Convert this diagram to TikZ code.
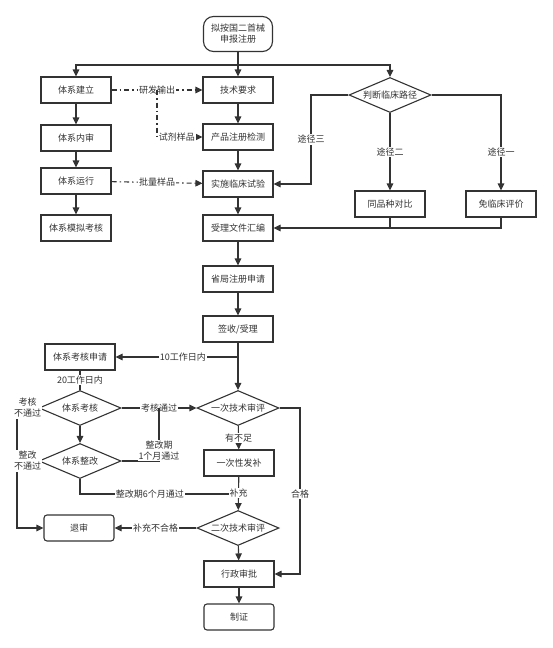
\documentclass[tikz,border=0pt]{standalone}
\usepackage{fontspec}
\setmainfont{Noto Sans CJK SC}
\usetikzlibrary{arrows.meta,shapes.geometric}
\definecolor{ln}{HTML}{333333}

\begin{document}
\begin{tikzpicture}[x=1pt,y=-1pt,
    every node/.style={font=\fontsize{9pt}{11pt}\selectfont, text=ln},
    box/.style={draw=ln, line width=1.1pt, minimum width=70pt, minimum height=26pt, inner sep=1pt},
    rbox/.style={box, rounded corners=3pt},
    dec/.style={draw=ln, line width=1.1pt, diamond, aspect=2.3, minimum width=82pt, minimum height=35pt, inner sep=0pt},
    lbl/.style={fill=white, inner sep=1pt, align=center},
    arr/.style={-{Triangle[length=7pt,width=6.5pt]}},
    dd/.style={dash pattern=on 5pt off 3pt on 1.5pt off 3pt}]
    \useasboundingbox (0,0) rectangle (553,648);

    \node[box, rounded corners=10pt, minimum width=69pt, minimum height=35pt, align=center] (start) at (238,34) {拟按国二首械\\申报注册};

    \node[box] (jianli) at (76,90) {体系建立};
    \node[box] (neishen) at (76,138) {体系内审};
    \node[box] (yunxing) at (76,181) {体系运行};
    \node[box] (moni) at (76,228) {体系模拟考核};

    \node[box] (jishu) at (238,90) {技术要求};
    \node[box] (jiance) at (238,137) {产品注册检测};
    \node[box] (shiyan) at (238,184) {实施临床试验};
    \node[box] (huibian) at (238,228) {受理文件汇编};

    \node[dec] (panduan) at (390,95) {判断临床路径};
    \node[box] (tongpin) at (390,204) {同品种对比};
    \node[box] (mianlin) at (501,204) {免临床评价};

    \node[box] (shengju) at (238,279) {省局注册申请};
    \node[box] (qianshou) at (238,329) {签收/受理};

    \node[box] (kaoheshen) at (80,357) {体系考核申请};
    \node[dec] (kaohe) at (80,408) {体系考核};
    \node[dec] (zhenggai) at (80,461) {体系整改};
    \node[rbox] (tuishen) at (79,528) {退审};

    \node[dec] (yici) at (238,408) {一次技术审评};
    \node[box] (fabu) at (239,463) {一次性发补};
    \node[dec] (erci) at (238,528) {二次技术审评};
    \node[box] (xingzheng) at (239,574) {行政审批};
    \node[rbox] (zhizheng) at (239,617) {制证};

    \coordinate (split) at (238,65);
    \coordinate (fork) at (157,90);
    \coordinate (path3) at (311,95);
    \coordinate (q10) at (238,357);
    \coordinate (pass1) at (159,408);
    \coordinate (lc) at (17,408);
    \coordinate (z6) at (80,494);
    \coordinate (ok) at (300,408);

    \begin{scope}[draw=ln, line width=1.1pt]
        \draw [arr] (start) -- (jishu);
        \draw [arr] (split) -| (jianli);
        \draw [arr] (split) -| (panduan);

        \draw [arr] (jianli) -- (neishen);
        \draw [arr] (neishen) -- (yunxing);
        \draw [arr] (yunxing) -- (moni);

        \draw [arr] (jishu) -- (jiance);
        \draw [arr] (jiance) -- (shiyan);
        \draw [arr] (shiyan) -- (huibian);
        \draw [arr] (huibian) -- (shengju);
        \draw [arr] (shengju) -- (qianshou);

        \draw [arr,dd] (jianli) -- node [lbl] {研发输出} (jishu);
        \draw [arr,dd] (fork) |- node [lbl,pos=0.72] {试剂样品} (jiance);
        \draw [arr,dd] (yunxing) -- node [lbl] {批量样品} (shiyan);

        \draw [arr] (panduan.west) -- (path3) |- node [lbl,pos=0.25] {途径三} (shiyan.east);
        \draw [arr] (panduan) -- node [lbl] {途径二} (tongpin);
        \draw [arr] (panduan.east) -| node [lbl,pos=0.8] {途径一} (mianlin);
        \draw (tongpin) -- (tongpin |- huibian);
        \draw [arr] (mianlin) |- (huibian);

        \draw [arr] (qianshou) -- (yici);
        \draw [arr] (q10) -- node [lbl,pos=0.45] {10工作日内} (kaoheshen);
        \draw (kaoheshen) -- node [lbl] {20工作日内} (kaohe);
        \draw [arr] (kaohe) -- node [lbl] {考核通过} (yici);
        \draw [arr] (kaohe) -- (zhenggai);
        \draw (zhenggai.east) -| node [lbl,pos=0.6] {整改期\\1个月通过} (pass1);
        \draw [arr] (kaohe.west) -- node [lbl] {考核\\不通过} (lc) |- (tuishen);
        \draw (zhenggai.west) -- node [lbl] {整改\\不通过} (zhenggai.west -| lc);
        \draw (zhenggai) |- node [lbl,pos=0.72] {整改期6个月通过} (fabu |- z6);

        \draw [arr] (yici) -- node [lbl] {有不足} (fabu);
        \draw [arr] (fabu) -- node [lbl] {补充} (erci);
        \draw [arr] (erci) -- node [lbl] {补充不合格} (tuishen);
        \draw [arr] (yici.east) -- (ok) |- node [lbl,pos=0.26] {合格} (xingzheng);
        \draw [arr] (erci) -- (xingzheng);
        \draw [arr] (xingzheng) -- (zhizheng);
    \end{scope}
\end{tikzpicture}
\end{document}
